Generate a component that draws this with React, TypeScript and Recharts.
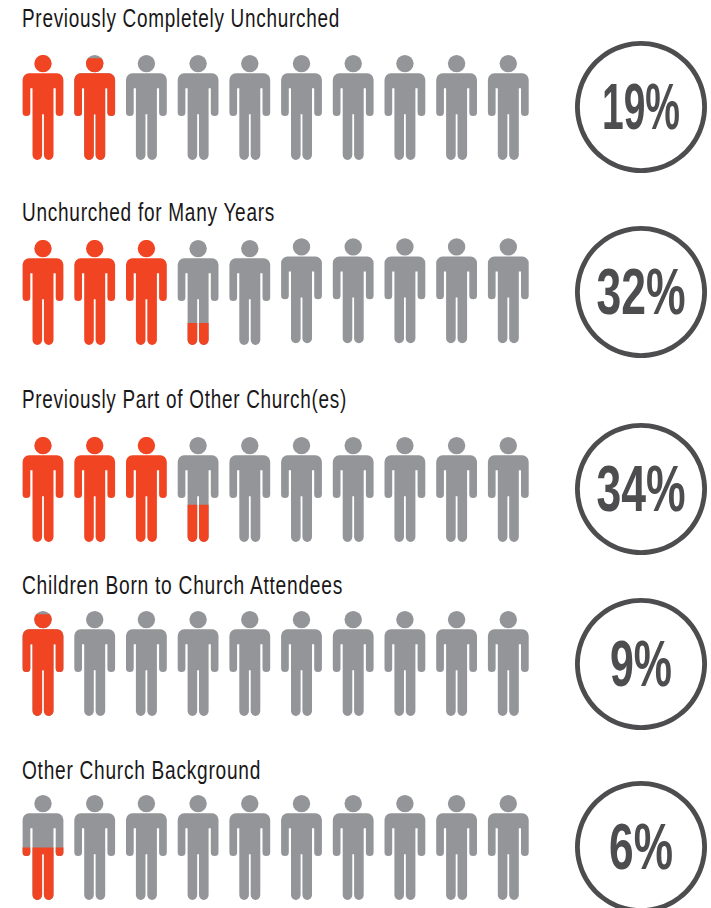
import React from "react";
import { BarChart, Bar, XAxis, YAxis, PieChart, Pie, Cell, Label } from "recharts";

// ---- data ----
const titles = [
  "Previously Completely Unchurched",
  "Unchurched for Many Years",
  "Previously Part of Other Church(es)",
  "Children Born to Church Attendees",
  "Other Church Background",
];
const percents = [19, 32, 34, 9, 6];
const people = [1, 2, 3, 4, 5, 6, 7, 8, 9, 10];
// share of each figure that is coloured, as drawn
const fillsCompletelyUnchurched = [1, 0.97, 0, 0, 0, 0, 0, 0, 0, 0];
const fillsManyYears = [1, 1, 1, 0.21, 0, 0, 0, 0, 0, 0];
const fillsOtherChurches = [1, 1, 1, 0.355, 0, 0, 0, 0, 0, 0];
const fillsChildren = [0.97, 0, 0, 0, 0, 0, 0, 0, 0, 0];
const fillsOtherBackground = [0.5, 0, 0, 0, 0, 0, 0, 0, 0, 0];
const rowFills = [
  fillsCompletelyUnchurched,
  fillsManyYears,
  fillsOtherChurches,
  fillsChildren,
  fillsOtherBackground,
];

// ---- layout and style ----
const RED = "#F04423";
const GREY = "#939598";
const INK = "#4D4D4F";
const NARROW = "'Liberation Sans Narrow', 'Liberation Sans', sans-serif";
const PERSON_H = 105;
const HEADROOM = 4;
const figureTops = [55, 240, 437, 611, 795];
const titleBaselines = [27, 221, 408, 594, 779];
const titleWidths = [318, 253, 325, 321, 239];
const circleCentres = [107, 291.5, 488.5, 663.5, 846.5];
const pctScales = [0.6, 0.685, 0.685, 0.66, 0.68];

const BODY =
  "M-14 18.3H14A6.4 6.4 0 0 1 20.4 24.7V57.2A3.85 3.85 0 0 1 12.7 57.2V33.3H10.5V100.1A4.8 4.8 0 0 1 0.9 100.1V59.3H-0.9V100.1A4.8 4.8 0 0 1 -10.5 100.1V33.3H-12.7V57.2A3.85 3.85 0 0 1 -20.4 57.2V24.7A6.4 6.4 0 0 1 -14 18.3Z";

function Figure({ cx, top, color, clipId }: { cx: number; top: number; color: string; clipId?: string }) {
  return (
    <g transform={`translate(${cx},${top})`} fill={color} clipPath={clipId ? `url(#${clipId})` : undefined}>
      <circle cx={0} cy={8.6} r={8.7} />
      <path d={BODY} />
    </g>
  );
}

function PersonBar(props: any) {
  const { x, y, width, height, background, index, rowIndex } = props;
  const cx = x + width / 2;
  const top = background ? background.y : y + height - PERSON_H;
  const clipId = `clip-${rowIndex}-${index}`;
  const h = height || 0;
  // in the second row the last five figures sit slightly higher
  const lift = rowIndex === 1 && index >= 5 ? -1.7 : 0;
  return (
    <g transform={`translate(0,${lift})`}>
      {h < PERSON_H && <Figure cx={cx} top={top} color={GREY} />}
      {h > 0 && (
        <>
          <defs>
            <clipPath id={clipId}>
              <rect x={-30} y={y - top} width={60} height={h} />
            </clipPath>
          </defs>
          <Figure cx={cx} top={top} color={RED} clipId={clipId} />
        </>
      )}
    </g>
  );
}

function PeopleRow({ rowIndex }: { rowIndex: number }) {
  const data = people.map((person, i) => ({ person, filled: rowFills[rowIndex][i] }));
  return (
    <div style={{ position: "absolute", left: 16.85, top: figureTops[rowIndex] - HEADROOM }}>
      <BarChart
        width={517}
        height={PERSON_H + HEADROOM}
        data={data}
        margin={{ top: HEADROOM, right: 0, bottom: 0, left: 0 }}
        barCategoryGap={0}
      >
        <XAxis dataKey="person" type="category" hide />
        <YAxis type="number" domain={[0, 1]} hide />
        <Bar
          dataKey="filled"
          isAnimationActive={false}
          background={{ fill: "none" }}
          shape={(p: any) => <PersonBar {...p} rowIndex={rowIndex} />}
        />
      </BarChart>
    </div>
  );
}

function PercentRing({ rowIndex }: { rowIndex: number }) {
  const size = 138;
  const value = percents[rowIndex];
  return (
    <div style={{ position: "absolute", left: 641.2 - size / 2, top: circleCentres[rowIndex] - size / 2 }}>
      <PieChart width={size} height={size} margin={{ top: 0, right: 0, bottom: 0, left: 0 }}>
        <Pie
          data={[{ name: titles[rowIndex], value }]}
          dataKey="value"
          cx="50%"
          cy="50%"
          innerRadius={61.2}
          outerRadius={66}
          startAngle={90}
          endAngle={-270}
          stroke="none"
          isAnimationActive={false}
        >
          <Cell fill={INK} />
          <Label
            position="center"
            content={() => (
              <text
                transform={`translate(${size / 2},${size / 2 + 22}) scale(${pctScales[rowIndex]},1)`}
                textAnchor="middle"
                fontFamily={NARROW}
                fontWeight={700}
                fontSize={65}
                fill={INK}
              >
                {`${value}%`}
              </text>
            )}
          />
        </Pie>
      </PieChart>
    </div>
  );
}

export default function App() {
  return (
    <div style={{ position: "absolute", left: 0, top: 0, width: 711, height: 908, overflow: "hidden", background: "#fff" }}>
      <svg width={711} height={908} style={{ position: "absolute", left: 0, top: 0 }}>
        {titles.map((t, i) => (
          <text
            key={t}
            x={22}
            y={titleBaselines[i]}
            fontFamily={NARROW}
            fontSize={26}
            letterSpacing={1}
            fill="#1A1718"
            textLength={titleWidths[i]}
            lengthAdjust="spacingAndGlyphs"
          >
            {t}
          </text>
        ))}
      </svg>
      {titles.map((t, i) => (
        <React.Fragment key={t}>
          <PeopleRow rowIndex={i} />
          <PercentRing rowIndex={i} />
        </React.Fragment>
      ))}
    </div>
  );
}
